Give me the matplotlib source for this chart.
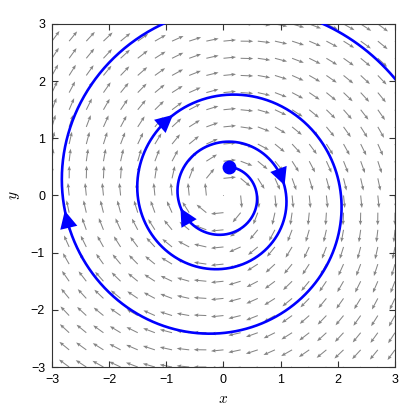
import numpy as np
import matplotlib
matplotlib.use('Agg')
import matplotlib.pyplot as plt

# system: x' = a*x + y, y' = -x + a*y  (unstable spiral, clockwise)
a = 0.1
start = [0.1, 0.5]
r_stop = 3.7
# times along the orbit where direction arrows sit
arrow_times = [4.10, 7.40, 11.75, 16.95]

grid_vals = np.linspace(-3, 3, 21)
tick_vals = [-3, -2, -1, 0, 1, 2, 3]
arrow_len = 0.22

plt.rcParams['font.family'] = ['Liberation Sans', 'DejaVu Sans']
plt.rcParams['mathtext.fontset'] = 'cm'


def field(p):
    return np.array([a * p[0] + p[1], -p[0] + a * p[1]])


def rk4(p, h):
    k1 = field(p)
    k2 = field(p + h / 2 * k1)
    k3 = field(p + h / 2 * k2)
    k4 = field(p + h * k3)
    return p + h / 6 * (k1 + 2 * k2 + 2 * k3 + k4)


# integrate orbit
h = 0.01
p = np.array(start, dtype=float)
pts = [p]
while np.hypot(p[0], p[1]) < r_stop:
    p = rk4(p, h)
    pts.append(p)
pts = np.array(pts)

fig = plt.figure(figsize=(4.17, 4.18), dpi=100)
ax = fig.add_axes([0.1247, 0.122, 0.8225, 0.8206])

X, Y = np.meshgrid(grid_vals, grid_vals)
U = a * X + Y
V = -X + a * Y
n = np.hypot(U, V)
n[n == 0] = 1
ax.quiver(X, Y, U / n * arrow_len, V / n * arrow_len, angles='xy',
          scale_units='xy', scale=1, pivot='tail', color='0.52',
          width=0.003, headwidth=3.5, headlength=4.5, headaxislength=4,
          zorder=1)

ax.plot(pts[:, 0], pts[:, 1], color='blue', lw=1.9, zorder=3)
ax.plot(start[0], start[1], 'o', color='blue', ms=9, zorder=4)

for ta in arrow_times:
    i = int(round(ta / h))
    p1 = pts[i]
    d = field(p1)
    d = d / np.hypot(d[0], d[1])
    ax.annotate('', xy=p1 + d * 0.1, xytext=p1 - d * 0.02,
                arrowprops=dict(arrowstyle='-|>,head_length=0.9,head_width=0.45',
                                color='blue', lw=0, shrinkA=0, shrinkB=0,
                                mutation_scale=14),
                zorder=5)

ax.set_xlim(-3, 3)
ax.set_ylim(-3, 3)
ax.set_xticks(tick_vals)
ax.set_yticks(tick_vals)
ax.tick_params(direction='in', top=True, right=True, length=4, width=0.8,
               color='0.2', labelsize=9, pad=5)
for s in ax.spines.values():
    s.set_color('0.2')
    s.set_linewidth(0.8)
ax.set_xlabel(r'$x$', fontsize=11, labelpad=4)
ax.set_ylabel(r'$y$', fontsize=11, labelpad=6)

fig.savefig('out.png', dpi=100)
